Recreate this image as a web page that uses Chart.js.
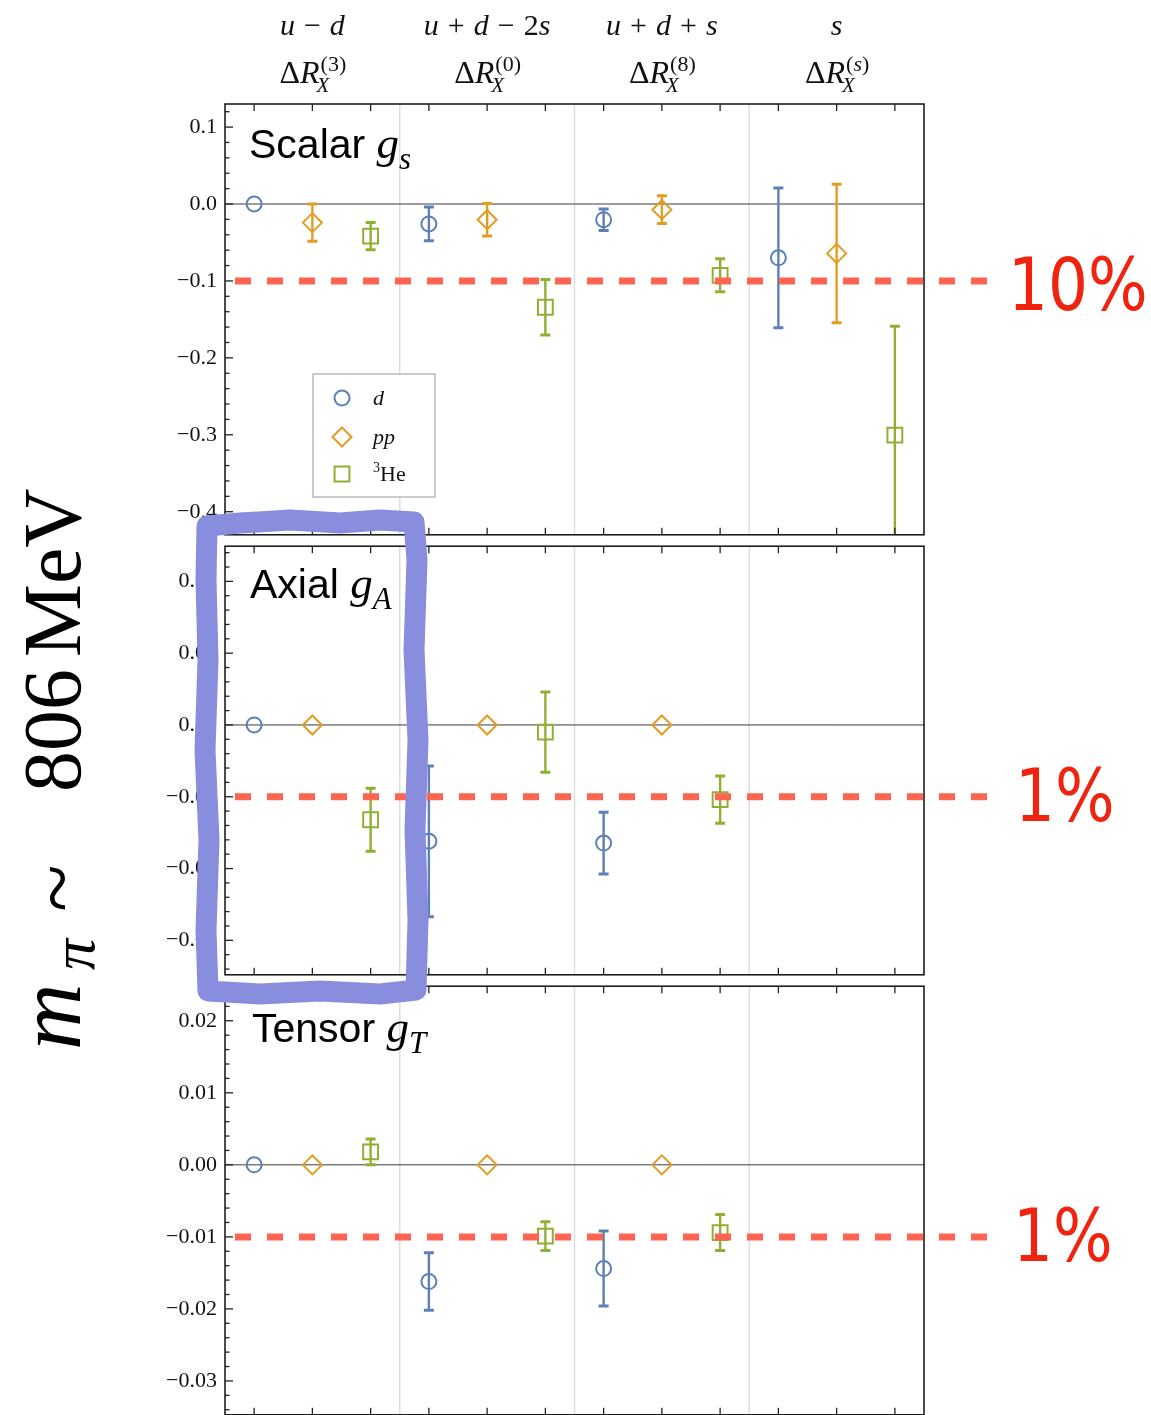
<!DOCTYPE html>
<html>
<head>
<meta charset="utf-8">
<script src="https://cdn.jsdelivr.net/npm/chart.js@4.4.1/dist/chart.umd.min.js"></script>
<style>
  html, body { margin: 0; padding: 0; background: #fff; overflow: hidden; }
  #page { position: relative; width: 1151px; height: 1415px; overflow: hidden; }
  .panel { position: absolute; left: 0; }
  #sideLabel, #mark { position: absolute; left: 0; top: 0; pointer-events: none; }
</style>
</head>
<body>
<div id="page">
  <canvas class="panel" id="c1" width="1151" height="556" style="top:0px"></canvas>
  <canvas class="panel" id="c2" width="1151" height="471" style="top:525px"></canvas>
  <canvas class="panel" id="c3" width="1151" height="471" style="top:965px"></canvas>
  <canvas id="sideLabel" width="1151" height="1415"></canvas>
  <svg id="mark" width="1151" height="1415" viewBox="0 0 1151 1415">
    <path d="M207 526 L240 523 L290 520 L340 523 L380 520 L414 522
             L417 560 L414 650 L418 740 L415 830 L418 920 L416 990
             L380 994 L320 991 L260 994 L208 991
             L206 930 L209 840 L205 750 L208 660 L206 580 Z"
          fill="none" stroke="rgb(136,141,221)" stroke-width="21"
          stroke-linejoin="round" stroke-linecap="round"/>
  </svg>
</div>
<script>
// ---- flavour combinations (one group of three columns each) ----
const GROUP_FLAVORS = ['u − d', 'u + d − 2s', 'u + d + s', 's'];
const GROUP_SUPS = ['(3)', '(0)', '(8)', '(s)'];
const NUCLEI = ['d', 'pp', '3He'];

// ---- scalar charge: value and uncertainty per group ----
const SCALAR_D      = [0,       -0.0259, -0.0204, -0.0700];
const SCALAR_D_ERR  = [0,        0.0220,  0.0139,  0.0907];
const SCALAR_PP     = [-0.0242, -0.0204, -0.0074, -0.0642];
const SCALAR_PP_ERR = [0.0242,   0.0212,  0.0180,  0.0900];
const SCALAR_HE     = [-0.0417, -0.1342, -0.0927, -0.3004];
const SCALAR_HE_ERR = [0.0177,   0.0360,  0.0214,  0.1414];

// ---- axial charge ----
const AXIAL_D      = [0,       -0.0162, -0.01645, null];
const AXIAL_D_ERR  = [0,        0.0105,  0.0043,  null];
const AXIAL_PP     = [0,        0,       0,       null];
const AXIAL_PP_ERR = [0,        0,       0,       null];
const AXIAL_HE     = [-0.0132, -0.0010, -0.0104,  null];
const AXIAL_HE_ERR = [0.0044,   0.0056,  0.0033,  null];

// ---- tensor charge ----
const TENSOR_D      = [0,       -0.0162, -0.0144, null];
const TENSOR_D_ERR  = [0,        0.0040,  0.0052, null];
const TENSOR_PP     = [0,        0,       0,      null];
const TENSOR_PP_ERR = [0,        0,       0,      null];
const TENSOR_HE     = [0.0018,  -0.0099, -0.0094, null];
const TENSOR_HE_ERR = [0.0018,   0.0020,  0.0025, null];

// ---- axis ticks ----
const SCALAR_TICKS = [0.1, 0.0, -0.1, -0.2, -0.3, -0.4];
const SMALL_TICKS  = [0.02, 0.01, 0.00, -0.01, -0.02, -0.03];
const GROUP_SEPARATORS = [3.5, 6.5, 9.5];

// ---- styling ----
const COLORS  = ['#5e81b5', '#e19c24', '#8fb032'];
const MARKERS = ['circle', 'rectRot', 'rect'];
const RADII   = [7.5, 9.5, 10.5];
const SERIF = '"Liberation Serif", "DejaVu Serif", serif';
const SANS  = '"Liberation Sans", Arial, sans-serif';
const RED_LINE = '#ff6450';
const RED_TEXT = '#f0230f';

const PANELS = [
  { id: 'c1', title: 'Scalar', sub: 's', ticks: SCALAR_TICKS, min: -0.43, max: 0.13, minor: 0.02, digits: 1,
    values: [SCALAR_D, SCALAR_PP, SCALAR_HE], errors: [SCALAR_D_ERR, SCALAR_PP_ERR, SCALAR_HE_ERR],
    threshold: -0.1, pct: '10%', pad: { top: 104, bottom: 20 }, titleDy: 54, titleDx: 24,
    pctDx: 84, pctDy: 29, legend: true, header: true },
  { id: 'c2', title: 'Axial', sub: 'A', ticks: SMALL_TICKS, min: -0.0348, max: 0.0249, minor: 0.002, digits: 2,
    values: [AXIAL_D, AXIAL_PP, AXIAL_HE], errors: [AXIAL_D_ERR, AXIAL_PP_ERR, AXIAL_HE_ERR],
    threshold: -0.01, pct: '1%', pad: { top: 20, bottom: 20 }, titleDy: 52, titleDx: 25,
    pctDx: 91, pctDy: 24 },
  { id: 'c3', title: 'Tensor', sub: 'T', ticks: SMALL_TICKS, min: -0.0347, max: 0.0248, minor: 0.002, digits: 2,
    values: [TENSOR_D, TENSOR_PP, TENSOR_HE], errors: [TENSOR_D_ERR, TENSOR_PP_ERR, TENSOR_HE_ERR],
    threshold: -0.01, pct: '1%', pad: { top: 20, bottom: 20 }, titleDy: 56, titleDx: 27,
    pctDx: 89, pctDy: 24 }
];

function fmtTick(v, digits) {
  return Number(v).toFixed(digits).replace('-', '−');
}

function line(ctx, x1, y1, x2, y2) {
  ctx.beginPath(); ctx.moveTo(x1, y1); ctx.lineTo(x2, y2); ctx.stroke();
}

function drawMarker(ctx, style, r, x, y) {
  ctx.beginPath();
  if (style === 'circle') {
    ctx.arc(x, y, r, 0, Math.PI * 2);
  } else if (style === 'rectRot') {
    ctx.moveTo(x - r, y); ctx.lineTo(x, y - r); ctx.lineTo(x + r, y); ctx.lineTo(x, y + r); ctx.closePath();
  } else {
    const s = r * Math.SQRT1_2;
    ctx.rect(x - s, y - s, 2 * s, 2 * s);
  }
  ctx.stroke();
}

function measureRuns(ctx, runs) {
  let w = 0;
  runs.forEach(r => {
    ctx.font = r.font;
    r.w = ctx.measureText(r.t).width + (r.padL || 0) + (r.padR || 0);
    w += r.w;
  });
  return w;
}
function drawRuns(ctx, runs, x, y) {
  runs.forEach(r => {
    ctx.font = r.font;
    ctx.fillText(r.t, x + (r.padL || 0), y + (r.dy || 0));
    x += r.w;
  });
  return x;
}

function flavorRuns(expr) {
  const runs = [];
  for (const ch of expr.replace(/ /g, '')) {
    if (/[a-z]/.test(ch)) runs.push({ t: ch, font: 'italic 30px ' + SERIF });
    else if (/[0-9]/.test(ch)) runs.push({ t: ch, font: '30px ' + SERIF });
    else runs.push({ t: ch, font: '30px ' + SERIF, padL: 9, padR: 9 });
  }
  return runs;
}

function drawHeader(ctx, cx, sup, yTop, yBottomRow, flavor) {
  // flavour combination row
  const fr = flavorRuns(flavor);
  const fw = measureRuns(ctx, fr);
  drawRuns(ctx, fr, cx - fw / 2, yTop);
  // Delta R with stacked super/subscripts
  const base = [{ t: 'Δ', font: '32px ' + SERIF }, { t: 'R', font: 'italic 32px ' + SERIF }];
  const bw = measureRuns(ctx, base);
  const supRuns = [];
  for (const ch of sup) {
    supRuns.push({ t: ch, font: (/[a-z]/.test(ch) ? 'italic ' : '') + '22px ' + SERIF });
  }
  const sw = measureRuns(ctx, supRuns);
  const subRuns = [{ t: 'X', font: 'italic 21px ' + SERIF }];
  const xw = measureRuns(ctx, subRuns);
  const total = bw + Math.max(sw, xw);
  let x = cx - total / 2;
  x = drawRuns(ctx, base, x, yBottomRow);
  drawRuns(ctx, supRuns, x + 1, yBottomRow - 12);
  drawRuns(ctx, subRuns, x - 3, yBottomRow + 9);
}

function decorPlugin(p) {
  return {
    id: 'panelDecor',
    beforeDatasetsDraw(chart) {
      const { ctx, chartArea: a } = chart;
      const xs = chart.scales.x, ys = chart.scales.y;
      ctx.save();
      // separators between flavour groups
      ctx.strokeStyle = '#dedede'; ctx.lineWidth = 1.5;
      GROUP_SEPARATORS.forEach(v => { const px = xs.getPixelForValue(v); line(ctx, px, a.top, px, a.bottom); });
      // zero reference
      ctx.strokeStyle = '#3a3a3a'; ctx.lineWidth = 1;
      const y0 = ys.getPixelForValue(0);
      line(ctx, a.left, y0, a.right, y0);
      // error bars
      ctx.beginPath(); ctx.rect(a.left, a.top, a.right - a.left, a.bottom - a.top); ctx.clip();
      chart.data.datasets.forEach(ds => {
        ctx.strokeStyle = ds.borderColor;
        ds.data.forEach(pt => {
          if (!pt.err) return;
          const px = xs.getPixelForValue(pt.x);
          const yt = ys.getPixelForValue(pt.y + pt.err);
          const yb = ys.getPixelForValue(pt.y - pt.err);
          ctx.lineWidth = 2.4;
          line(ctx, px, yt, px, yb);
          ctx.lineWidth = 3;
          line(ctx, px - 5, yt, px + 5, yt);
          line(ctx, px - 5, yb, px + 5, yb);
        });
      });
      ctx.restore();
    },
    afterDatasetsDraw(chart) {
      const { ctx, chartArea: a } = chart;
      const xs = chart.scales.x, ys = chart.scales.y;
      ctx.save();
      // percentage threshold
      const yt = ys.getPixelForValue(p.threshold);
      ctx.strokeStyle = RED_LINE; ctx.lineWidth = 7; ctx.setLineDash([16, 16]);
      line(ctx, a.left + 10, yt, a.right + 63, yt);
      ctx.setLineDash([]);
      ctx.fillStyle = RED_TEXT;
      ctx.font = '73px "DejaVu Sans", sans-serif';
      ctx.textBaseline = 'alphabetic';
      ctx.save();
      ctx.translate(a.right + p.pctDx, yt + p.pctDy);
      ctx.scale(0.86, 1);
      ctx.fillText(p.pct, 0, 0);
      ctx.restore();

      // frame
      ctx.strokeStyle = '#111'; ctx.lineWidth = 1.5;
      ctx.strokeRect(a.left, a.top, a.right - a.left, a.bottom - a.top);
      // inward tick marks
      ctx.lineWidth = 1.3; ctx.strokeStyle = '#222';
      for (let v = 1; v <= 12; v++) {
        const px = xs.getPixelForValue(v);
        line(ctx, px, a.top, px, a.top + 7);
        line(ctx, px, a.bottom, px, a.bottom - 7);
      }
      p.ticks.forEach(v => { const py = ys.getPixelForValue(v); line(ctx, a.left, py, a.left + 8, py); });
      const k0 = Math.ceil(p.min / p.minor - 1e-9), k1 = Math.floor(p.max / p.minor + 1e-9);
      for (let k = k0; k <= k1; k++) {
        const v = k * p.minor;
        if (p.ticks.some(t => Math.abs(t - v) < p.minor / 10)) continue;
        const py = ys.getPixelForValue(v);
        line(ctx, a.left, py, a.left + 4.5, py);
      }

      // panel title
      ctx.fillStyle = '#000';
      const tr = [
        { t: p.title + ' ', font: '41px ' + SANS },
        { t: 'g', font: 'italic 45px ' + SERIF },
        { t: p.sub, font: 'italic 31px ' + SERIF, dy: 11 }
      ];
      measureRuns(ctx, tr);
      drawRuns(ctx, tr, a.left + p.titleDx, a.top + p.titleDy);

      // legend
      if (p.legend) {
        const lx = a.left + 88, ly = a.top + 270;
        ctx.fillStyle = '#fff';
        ctx.fillRect(lx, ly, 122, 123);
        ctx.strokeStyle = '#a8a8a8'; ctx.lineWidth = 1.2;
        ctx.strokeRect(lx, ly, 122, 123);
        const rows = [24, 63, 100];
        NUCLEI.forEach((n, i) => {
          ctx.strokeStyle = COLORS[i]; ctx.lineWidth = 2;
          drawMarker(ctx, MARKERS[i], RADII[i], lx + 29, ly + rows[i]);
          ctx.fillStyle = '#111';
          let runs;
          if (n === '3He') runs = [{ t: '3', font: '14px ' + SERIF, dy: -9 }, { t: 'He', font: '22px ' + SERIF }];
          else runs = [{ t: n, font: 'italic 22px ' + SERIF }];
          measureRuns(ctx, runs);
          drawRuns(ctx, runs, lx + 60, ly + rows[i] + 7);
        });
      }

      // column headers
      if (p.header) {
        ctx.fillStyle = '#111';
        GROUP_FLAVORS.forEach((f, g) => {
          const cx = xs.getPixelForValue(3 * g + 2);
          drawHeader(ctx, cx, GROUP_SUPS[g], a.top - 69, a.top - 21, f);
        });
      }
      ctx.restore();
    }
  };
}

function buildDatasets(p) {
  return NUCLEI.map((n, s) => {
    const pts = [];
    p.values[s].forEach((v, g) => {
      if (v === null) return;
      pts.push({ x: 3 * g + s + 1, y: v, err: p.errors[s][g] });
    });
    return {
      label: n,
      data: pts,
      showLine: false,
      pointStyle: MARKERS[s],
      pointRadius: RADII[s],
      pointHoverRadius: RADII[s],
      pointBorderWidth: 2,
      borderColor: COLORS[s],
      pointBorderColor: COLORS[s],
      pointBackgroundColor: 'rgba(0,0,0,0)',
      backgroundColor: 'rgba(0,0,0,0)'
    };
  });
}

PANELS.forEach(p => {
  new Chart(document.getElementById(p.id), {
    type: 'scatter',
    data: { datasets: buildDatasets(p) },
    options: {
      responsive: false,
      animation: false,
      events: [],
      layout: { padding: { left: 0, right: 227, top: p.pad.top, bottom: p.pad.bottom } },
      plugins: { legend: { display: false }, tooltip: { enabled: false } },
      scales: {
        x: { type: 'linear', min: 0.5, max: 12.5, display: false },
        y: {
          type: 'linear', min: p.min, max: p.max,
          afterBuildTicks(s) { s.ticks = p.ticks.map(v => ({ value: v })); },
          afterFit(s) { s.width = 225; },
          grid: { display: false, drawTicks: false },
          border: { display: false },
          ticks: {
            autoSkip: false, padding: 8, color: '#111',
            font: { family: 'Liberation Serif', size: 22 },
            callback: v => fmtTick(v, p.digits)
          }
        }
      }
    },
    plugins: [decorPlugin(p)]
  });
});

// rotated quantity label on the left, reading upwards; each piece starts at a page y
(function () {
  const c = document.getElementById('sideLabel');
  const ctx = c.getContext('2d');
  ctx.fillStyle = '#000';
  const pieces = [
    { t: 'm',   font: 'italic 92px ' + SERIF, start: 1050 },
    { t: 'π',   font: 'italic 62px ' + SERIF, start: 970, dy: 14 },
    { t: '~',   font: '88px ' + SERIF, start: 912, dy: 7 },
    { t: '806', font: '82px ' + SERIF, start: 792 },
    { t: 'MeV', font: '82px ' + SERIF, start: 657 }
  ];
  ctx.save();
  ctx.translate(80, 0);
  ctx.rotate(-Math.PI / 2);
  pieces.forEach(pc => {
    ctx.font = pc.font;
    ctx.fillText(pc.t, -pc.start, pc.dy || 0);
  });
  ctx.restore();
})();
</script>
</body>
</html>
